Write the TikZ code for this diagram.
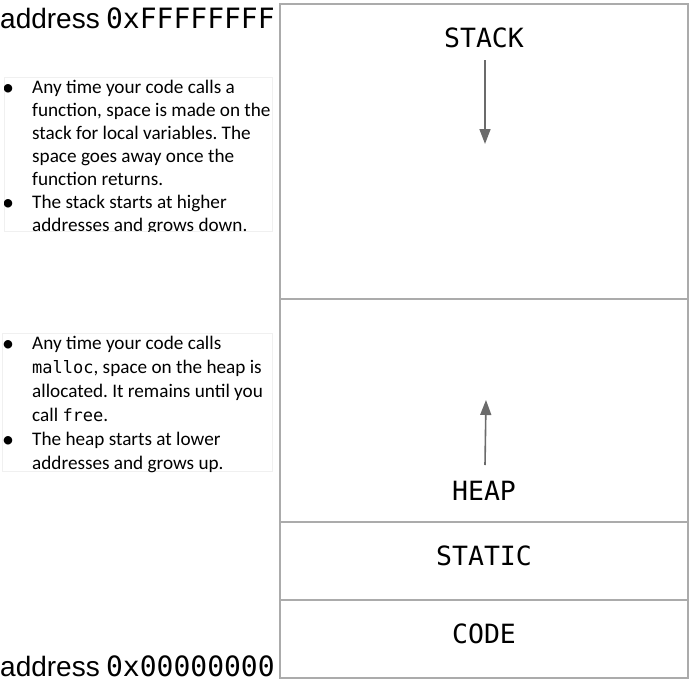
\documentclass[tikz,border=0pt]{standalone}
\usepackage{fontspec}
\setmainfont{Carlito}
\setmonofont{DejaVu Sans Mono}
\newfontfamily\addrfont{Liberation Sans}
\usetikzlibrary{arrows.meta}
\frenchspacing
\tikzset{
  region/.style={draw=black!33, line width=1.5pt},
  seglabel/.style={font=\ttfamily\fontsize{26.5}{30}\selectfont, inner sep=0pt, anchor=base},
  addr/.style={font=\fontsize{28}{30}\selectfont, inner sep=0pt, anchor=base west},
  notebox/.style={fill=white, draw=black!6, line width=1pt},
  notetext/.style={font=\fontsize{19.2}{23}\selectfont, inner sep=0pt, anchor=base west, align=left},
  notetextb/.style={notetext, font=\fontsize{19.2}{24}\selectfont},
  bul/.style={font=\fontsize{24}{24}\selectfont, inner sep=0pt, anchor=base},
  growarrow/.style={draw=black!58, line width=1.6pt, -{Triangle[width=11pt,length=15pt]}}
}
\newcommand{\codeword}[1]{{\ttfamily\fontsize{17}{20}\selectfont #1}}
\begin{document}
\begin{tikzpicture}[x=1pt,y=-1pt]
\useasboundingbox (0,0) rectangle (691,683);
% memory regions
\draw[region] (280,4) rectangle (688,678);
\draw[region] (280,299) -- (688,299);
\draw[region] (280,522) -- (688,522);
\draw[region] (280,600) -- (688,600);
\node[seglabel] (stack) at (484,47) {STACK};
\node[seglabel] (heap) at (484,500.5) {HEAP};
\node[seglabel] (static) at (484,565) {STATIC};
\node[seglabel] (code) at (484,643.5) {CODE};
\coordinate (sa) at (485,60);
\coordinate (sb) at (485,144);
\coordinate (ha) at (485,465);
\coordinate (hb) at (486,400);
\draw[growarrow] (sa) -- (sb);
\draw[growarrow] (ha) -- (hb);
% addresses
\node[addr] (top) at (0,28) {{\addrfont address} \texttt{0xFFFFFFFF}};
\node[addr] (bot) at (0,676) {{\addrfont address} \texttt{0x00000000}};
% stack note
\draw[notebox] (4,77) rectangle (272,231);
\begin{scope}
\clip (4,77) rectangle (272,231);
\node[bul] (b1) at (8,95) {•};
\node[notetext] (t1) at (32,185) {Any time your code calls a\\function, space is made on the\\stack for local variables. The\\space goes away once the\\function returns.};
\node[bul] (b2) at (8,210) {•};
\node[notetext] (t2) at (32,231) {The stack starts at higher\\addresses and grows down.};
\end{scope}
% heap note
\draw[notebox] (2,333) rectangle (272,471);
\node[bul] (b3) at (8,351) {•};
\node[notetextb] (t3) at (32,421) {Any time your code calls\\\codeword{malloc}, space on the heap is\\allocated. It remains until you\\call \codeword{free}.};
\node[bul] (b4) at (8,447) {•};
\node[notetextb] (t4) at (32,469) {The heap starts at lower\\addresses and grows up.};
\end{tikzpicture}
\end{document}
